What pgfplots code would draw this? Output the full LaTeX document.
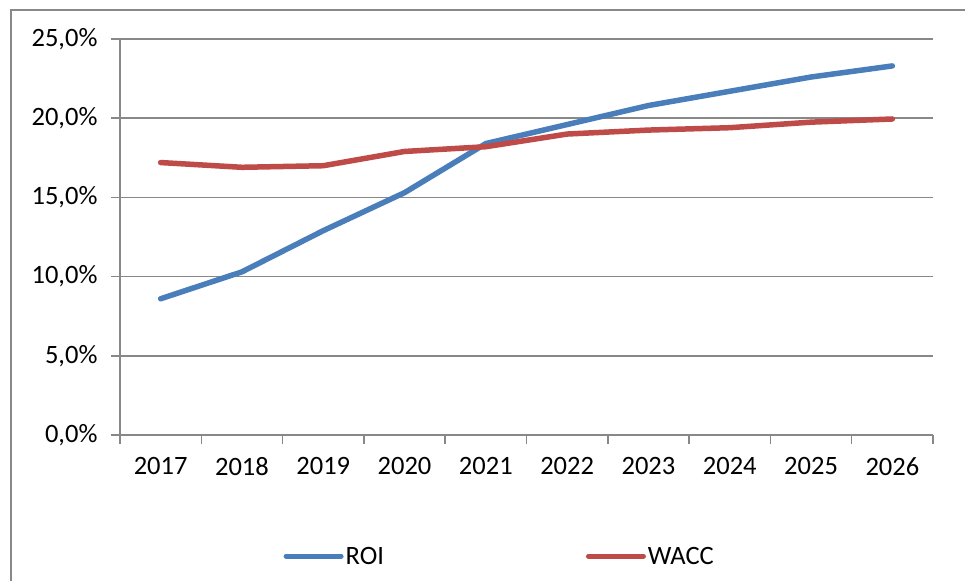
\documentclass[border=0pt]{standalone}
\usepackage{pgfplots}
\pgfplotsset{compat=1.18}
\usepackage{fontspec}
\setmainfont{Carlito}
\definecolor{roi}{HTML}{4A7EBB}
\definecolor{wacc}{HTML}{BE4B48}
\definecolor{gridc}{HTML}{888888}
\begin{document}
\begin{tikzpicture}[x=1pt,y=1pt]
\useasboundingbox (0,0) rectangle (965,581);
\draw[gridc, line width=2pt] (11,0) -- (11,571) -- (965,571);
\begin{axis}[
  at={(120pt,146pt)}, anchor=south west,
  scale only axis, width=813pt, height=396pt,
  xmin=0.5, xmax=10.5, ymin=0, ymax=25,
  axis x line*=bottom, axis y line*=left,
  axis line style={-, gridc, line width=1.5pt},
  xtick={1,2,3,4,5,6,7,8,9,10},
  xticklabels={2017,2018,2019,2020,2021,2022,2023,2024,2025,2026},
  major x tick style={draw=none},
  extra x ticks={0.5,1.5,2.5,3.5,4.5,5.5,6.5,7.5,8.5,9.5,10.5},
  extra x tick labels={},
  extra x tick style={grid=none, major tick length=9pt, major x tick style={draw=gridc, line width=1.5pt}},
  ytick={0,5,10,15,20,25},
  yticklabel={\pgfmathprintnumber[fixed,fixed zerofill,precision=1,use comma]{\tick}\%},
  /pgf/number format/assume math mode=true,
  tick align=outside, major tick length=9pt,
  tick style={gridc, line width=1.5pt},
  ymajorgrids, grid style={gridc, line width=1.5pt},
  tick label style={font=\fontsize{26.5}{30}\selectfont, black},
  yticklabel style={xshift=-10pt},
  xticklabel style={yshift=-10pt},
  legend style={at={(0.467,-0.306)}, anchor=center, draw=none, fill=none,
    font=\fontsize{26.5}{30}\selectfont, legend columns=2,
    /tikz/every even column/.append style={column sep=200pt}},
  legend image code/.code={\draw[#1, line width=5pt, line cap=round] (0pt,0pt) -- (55pt,0pt);},
]
\addplot[roi, line width=5.5pt, line cap=round, line join=round] coordinates {
 (1,8.6) (2,10.3) (3,12.9) (4,15.3) (5,18.4) (6,19.6) (7,20.8) (8,21.7) (9,22.6) (10,23.3)};
\addlegendentry{ROI}
\addplot[wacc, line width=5.5pt, line cap=round, line join=round] coordinates {
 (1,17.2) (2,16.9) (3,17.0) (4,17.9) (5,18.2) (6,19.0) (7,19.25) (8,19.4) (9,19.75) (10,19.95)};
\addlegendentry{WACC}
\end{axis}
\end{tikzpicture}
\end{document}
